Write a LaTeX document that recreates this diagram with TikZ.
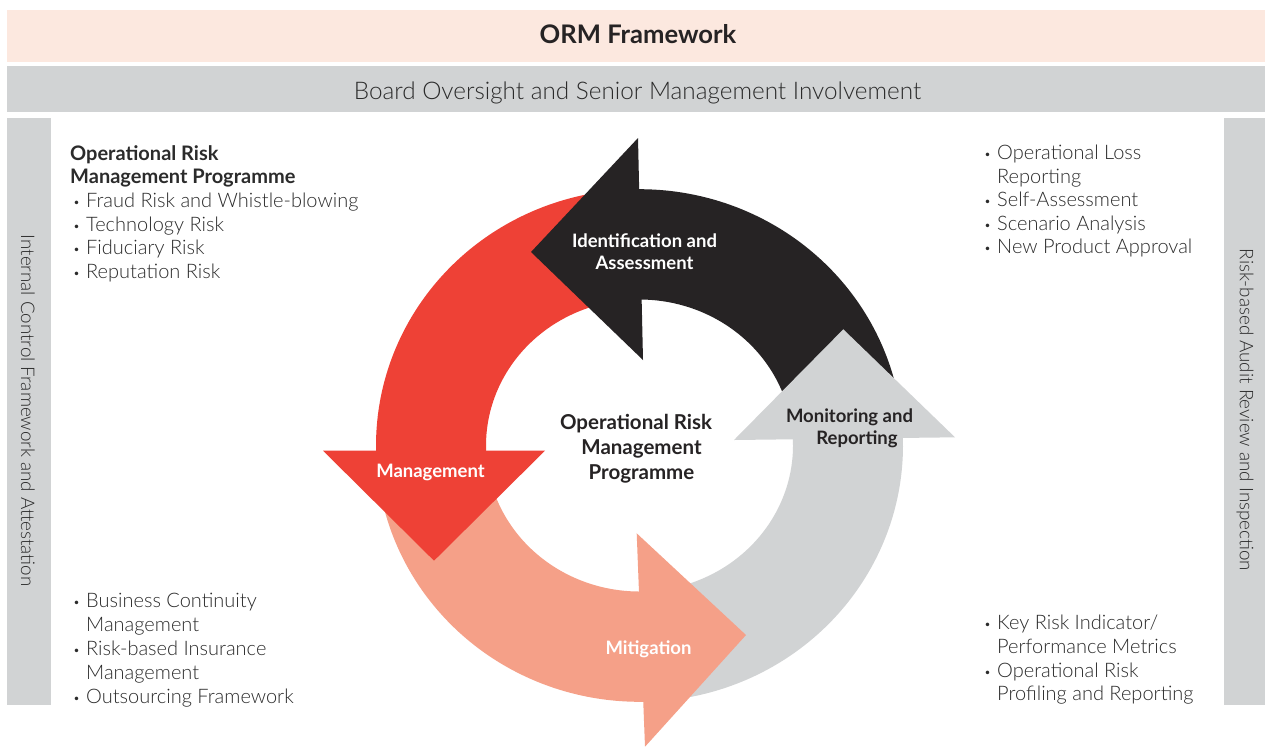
\documentclass[tikz,border=0pt]{standalone}
\usepackage{fontspec}
\setmainfont{Lato}[UprightFont={* Light},BoldFont={* Bold}]
\definecolor{pinkc}{HTML}{FCE8DF}
\definecolor{grayc}{HTML}{D1D3D4}
\definecolor{redc}{HTML}{EE4136}
\definecolor{salc}{HTML}{F5A088}
\definecolor{blkc}{HTML}{262324}
\definecolor{textc}{HTML}{2B2B2B}
\newcommand\bul{\makebox[13pt][l]{\raisebox{1pt}{\fontsize{12}{12}\selectfont •}}}
\begin{document}
\begin{tikzpicture}[x=1pt,y=-1pt,
  txt/.style={inner sep=0pt, text=textc, font=\fontsize{20}{24}\selectfont},
  ln/.style={txt, anchor=base west},
  lnb/.style={ln, font=\bfseries\fontsize{20}{24}\selectfont},
  lab/.style={inner sep=0pt, anchor=base, font=\bfseries\fontsize{18.5}{22}\selectfont},
  ctr/.style={inner sep=0pt, anchor=base, text=blkc, font=\bfseries\fontsize{20.5}{24}\selectfont},
  side/.style={inner sep=0pt, rotate=-90, text=textc, font=\fontsize{18.8}{22}\selectfont}]
\useasboundingbox (0,0) rectangle (1268,748);
\fill[white] (0,0) rectangle (1268,748);
% banners
\fill[pinkc] (7,10) rectangle (1265,62);
\node[inner sep=0pt, anchor=base, text=blkc, font=\bfseries\fontsize{25.6}{30}\selectfont] (title) at (638,43.3) {ORM Framework};
\fill[grayc] (7,66) rectangle (1265,112);
\node[inner sep=0pt, anchor=base, text=textc, font=\fontsize{24.3}{28}\selectfont] (board) at (637.5,99) {Board Oversight and Senior Management Involvement};
\fill[grayc] (7,118) rectangle (51,705);
\node[side] (icf) at (28,410.5) {Internal Control Framework and Attestation};
\fill[grayc] (1224,118) rectangle (1265,705);
\node[side] (rba) at (1245,410) {Risk-based Audit Review and Inspection};
% shafts
\fill[blkc] plot[domain=357:268, samples=90] ({639.5+263.5*cos(\x)},{445.5+256.3*sin(\x)})
  -- plot[domain=268:356.5, samples=90] ({639.5+153.5*cos(\x)},{445.5+146*sin(\x)}) -- cycle;
\fill[redc] plot[domain=269:175, samples=90] ({639.5+263.5*cos(\x)},{445.5+256.3*sin(\x)})
  -- plot[domain=175:270, samples=90] ({639.5+153.5*cos(\x)},{445.5+146*sin(\x)}) -- cycle;
\fill[salc] plot[domain=177.5:86, samples=90] ({639.5+263.5*cos(\x)},{445.5+256.3*sin(\x)})
  -- plot[domain=86:176.5, samples=90] ({639.5+153.5*cos(\x)},{445.5+146*sin(\x)}) -- cycle;
\fill[grayc] plot[domain=88:-5, samples=90] ({639.5+263.5*cos(\x)},{445.5+256.3*sin(\x)})
  -- plot[domain=-5:89, samples=90] ({639.5+153.5*cos(\x)},{445.5+146*sin(\x)}) -- cycle;
% heads
\fill[blkc] (638,138) -- (531,252) -- (643,360) -- cycle;
\fill[redc] (323,450.7) -- (545,450.7) -- (434,560.7) -- cycle;
\fill[salc] (636.7,533.3) -- (746,635) -- (645,746.7) -- cycle;
\fill[grayc] (734,440) -- (843.3,329.3) -- (955,437.3) -- cycle;
% arrow labels
\node[lab, text=white] (ida) at (644.5,247.3) {Identification and};
\node[lab, text=white] (idb) at (644.5,269.3) {Assessment};
\node[lab, text=white] (mgmt) at (430.5,477.3) {Management};
\node[lab, text=white] (mit) at (648.5,654) {Mitigation};
\node[lab, text=blkc] (mona) at (849.5,422.7) {Monitoring and};
\node[lab, text=blkc] (monb) at (857,444.7) {Reporting};
% centre
\node[ctr] (c1) at (636,429) {Operational Risk};
\node[ctr] (c2) at (641.5,454) {Management};
\node[ctr] (c3) at (641.5,479) {Programme};
% top left
\node[lnb] (tl1) at (70,160) {Operational Risk};
\node[lnb] (tl2) at (70,183.5) {Management Programme};
\node[ln] (tl3) at (73,207.5) {\bul Fraud Risk and Whistle-blowing};
\node[ln] (tl4) at (73,231) {\bul Technology Risk};
\node[ln] (tl5) at (73,254.5) {\bul Fiduciary Risk};
\node[ln] (tl6) at (73,278) {\bul Reputation Risk};
% top right
\node[ln] (tr1) at (984,159.3) {\bul Operational Loss};
\node[ln] (tr2) at (997,183) {Reporting};
\node[ln] (tr3) at (984,206.5) {\bul Self-Assessment};
\node[ln] (tr4) at (984,230) {\bul Scenario Analysis};
\node[ln] (tr5) at (984,253.7) {\bul New Product Approval};
% bottom left
\node[ln] (bl1) at (73,607.3) {\bul Business Continuity};
\node[ln] (bl2) at (86,631) {Management};
\node[ln] (bl3) at (73,655) {\bul Risk-based Insurance};
\node[ln] (bl4) at (86,679) {Management};
\node[ln] (bl5) at (73,703) {\bul Outsourcing Framework};
% bottom right
\node[ln] (br1) at (984,629.3) {\bul Key Risk Indicator/};
\node[ln] (br2) at (997,653) {Performance Metrics};
\node[ln] (br3) at (984,677) {\bul Operational Risk};
\node[ln] (br4) at (997,700.7) {Profiling and Reporting};
\end{tikzpicture}
\end{document}
